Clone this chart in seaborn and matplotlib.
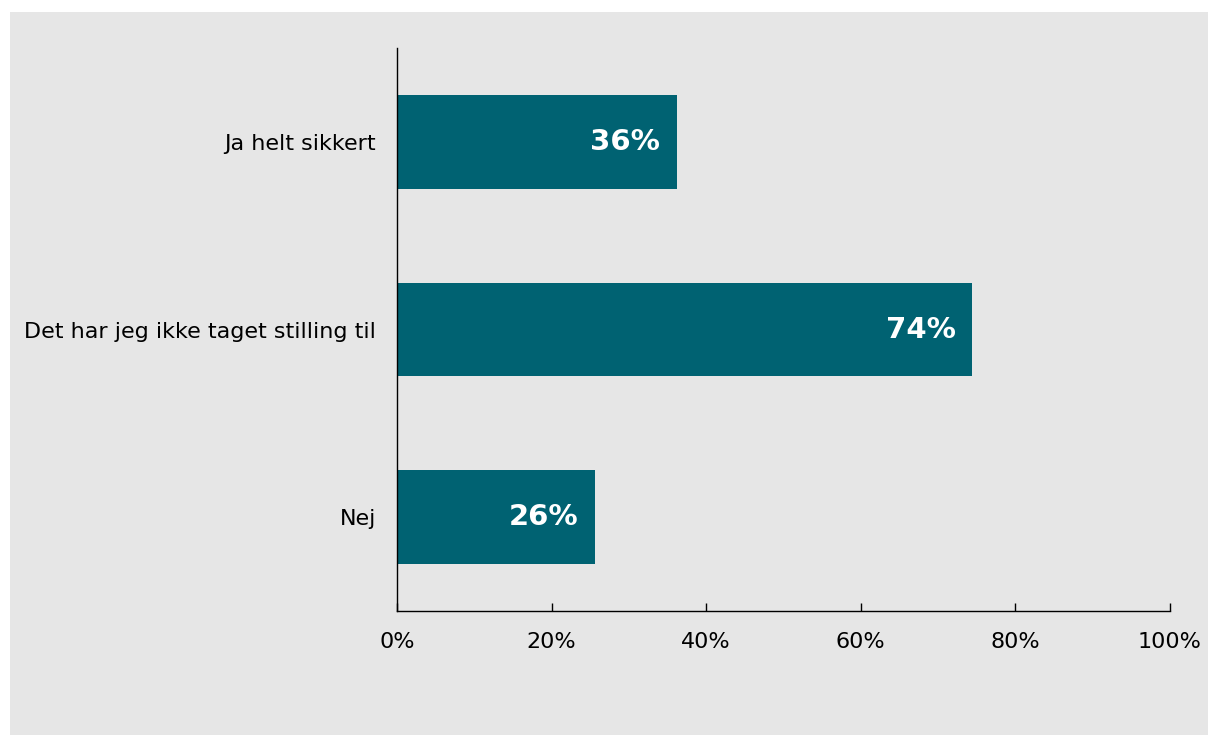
import matplotlib
matplotlib.use("Agg")
import matplotlib.pyplot as plt
import seaborn as sns
import pandas as pd
from matplotlib.patches import Rectangle

categories = ["Ja helt sikkert", "Det har jeg ikke taget stilling til", "Nej"]
values = [36.2, 74.4, 25.6]
xticks = [0, 20, 40, 60, 80, 100]

bg = "#e6e6e6"
bar_color = "#006272"

sns.set_style("white")
plt.rcParams["font.family"] = ["DejaVu Sans"]

df = pd.DataFrame({"category": categories, "value": values})

fig = plt.figure(figsize=(12.08, 7.35), dpi=100, facecolor="white")
# grey panel behind the chart, leaving a thin white margin top/left
fig.patches.append(Rectangle((10 / 1208, 0), 1, 1 - 12 / 735, transform=fig.transFigure,
                             facecolor=bg, edgecolor="none", zorder=-10))
ax = fig.add_axes([397 / 1208, 1 - 611 / 735, (1170 - 397) / 1208, (611 - 48) / 735])
ax.set_facecolor(bg)

sns.barplot(data=df, x="value", y="category", orient="h", color=bar_color,
            width=0.5, saturation=1, linewidth=0, ax=ax)

# value labels inside the bar ends
for i, v in enumerate(values):
    ax.annotate(f"{v:.0f}%", xy=(v, i), xytext=(-12, 0), textcoords="offset points",
                ha="right", va="center", color="white", fontsize=21, fontweight="bold")

ax.set_xlim(0, 100)
ax.set_ylim(2.5, -0.5)
ax.set_xticks(xticks)
ax.set_xticklabels([f"{t}%" for t in xticks])
ax.set_xlabel("")
ax.set_ylabel("")

for s in ["top", "right"]:
    ax.spines[s].set_visible(False)
for s in ["left", "bottom"]:
    ax.spines[s].set_color("black")
    ax.spines[s].set_linewidth(1)

ax.tick_params(axis="x", bottom=True, direction="in", length=6, width=1, color="black",
               labelcolor="black", labelsize=16, pad=15)
ax.tick_params(axis="y", left=False, length=0, labelcolor="black", labelsize=16, pad=15)

fig.savefig("out.png", dpi=100, facecolor="white")
